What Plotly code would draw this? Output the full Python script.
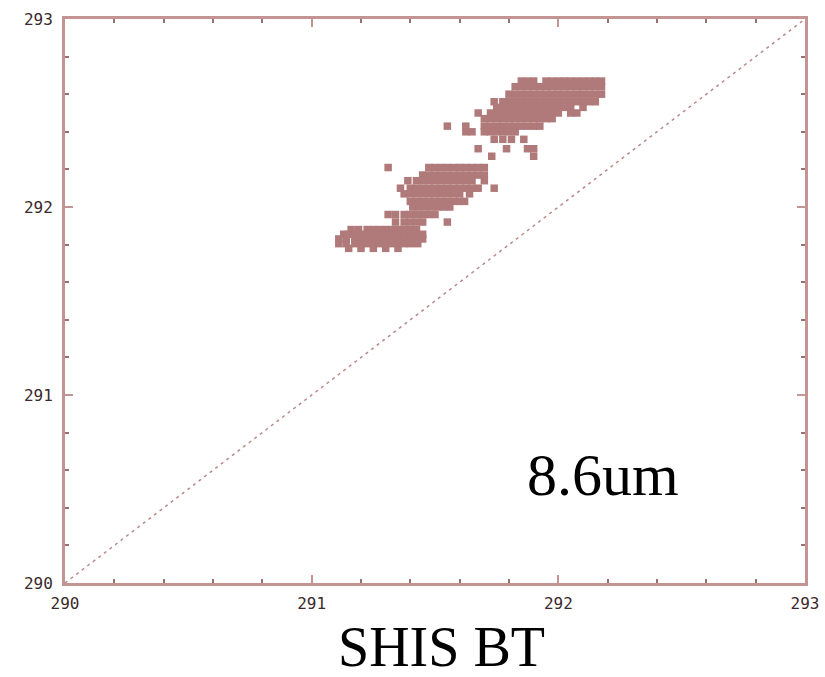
import plotly.graph_objects as go

# ---- data (brightness temperatures, K) ----
# cluster points given as rows: (y value, list of x values)
top_rows = [
    (292.67, [291.85, 291.875, 291.90, 291.95, 291.975, 292.00, 292.025, 292.05, 292.075, 292.10, 292.125, 292.15, 292.175]),
    (292.64, [291.825, 291.85, 291.875, 291.90, 291.925, 291.95, 291.975, 292.00, 292.025, 292.05, 292.075, 292.10, 292.125, 292.15, 292.175]),
    (292.60, [291.80, 291.825, 291.85, 291.875, 291.90, 291.925, 291.95, 291.975, 292.00, 292.025, 292.05, 292.075, 292.10, 292.125, 292.15, 292.175]),
    (292.56, [291.74, 291.775, 291.80, 291.825, 291.85, 291.875, 291.90, 291.925, 291.95, 291.975, 292.00, 292.025, 292.05, 292.075, 292.10, 292.125, 292.15]),
    (292.53, [291.75, 291.775, 291.80, 291.825, 291.85, 291.875, 291.90, 291.925, 291.95, 291.975, 292.00, 292.025, 292.05, 292.10]),
    (292.50, [291.675, 291.725, 291.75, 291.775, 291.80, 291.825, 291.85, 291.875, 291.90, 291.925, 291.95, 291.975, 292.00, 292.05, 292.075]),
    (292.47, [291.70, 291.725, 291.75, 291.775, 291.80, 291.825, 291.85, 291.875, 291.90, 291.925, 291.95, 291.975]),
    (292.43, [291.55, 291.625, 291.70, 291.725, 291.75, 291.775, 291.80, 291.825, 291.85, 291.875, 291.90, 291.925]),
    (292.40, [291.625, 291.65, 291.70, 291.725, 291.75, 291.775, 291.80, 291.825]),
    (292.36, [291.74, 291.775, 291.81, 291.86]),
    (292.31, [291.675, 291.79, 291.875, 291.90]),
    (292.27, [291.73, 291.90]),
]
mid_rows = [
    (292.21, [291.31, 291.475, 291.50, 291.525, 291.55, 291.575, 291.60, 291.625, 291.65, 291.675, 291.70]),
    (292.17, [291.45, 291.475, 291.50, 291.525, 291.55, 291.575, 291.60, 291.625, 291.65, 291.675, 291.70]),
    (292.14, [291.39, 291.425, 291.45, 291.475, 291.50, 291.525, 291.55, 291.575, 291.60, 291.625, 291.65, 291.70]),
    (292.10, [291.36, 291.40, 291.425, 291.45, 291.475, 291.50, 291.525, 291.55, 291.575, 291.60, 291.625, 291.65, 291.675, 291.74]),
    (292.07, [291.375, 291.40, 291.425, 291.45, 291.475, 291.50, 291.525, 291.55, 291.575, 291.60, 291.64]),
    (292.03, [291.40, 291.425, 291.45, 291.475, 291.50, 291.525, 291.55, 291.575, 291.60, 291.62]),
    (292.00, [291.41, 291.435, 291.46, 291.485, 291.51, 291.535, 291.56]),
    (291.96, [291.31, 291.34, 291.375, 291.40, 291.425, 291.45, 291.475, 291.50]),
    (291.92, [291.34, 291.375, 291.40, 291.425, 291.45, 291.55]),
]
low_rows = [
    (291.88, [291.16, 291.19, 291.225, 291.25, 291.275, 291.30, 291.325, 291.35, 291.375, 291.40, 291.425]),
    (291.855, [291.13, 291.15, 291.175, 291.20, 291.225, 291.25, 291.275, 291.30, 291.325, 291.35, 291.375, 291.40, 291.425, 291.45]),
    (291.83, [291.11, 291.14, 291.175, 291.20, 291.225, 291.25, 291.275, 291.30, 291.325, 291.35, 291.375, 291.40, 291.425, 291.45]),
    (291.805, [291.11, 291.14, 291.175, 291.20, 291.225, 291.25, 291.275, 291.30, 291.325, 291.35, 291.375, 291.40, 291.43]),
    (291.78, [291.15, 291.20, 291.25, 291.30, 291.35]),
]
diag_x = [290, 293]
diag_y = [290, 293]
tick_vals = [290, 291, 292, 293]
tick_text = ["290", "291", "292", "293"]

pts_x, pts_y = [], []
for rows in (top_rows, mid_rows, low_rows):
    for yv, xs in rows:
        for xv in xs:
            pts_x.append(xv)
            pts_y.append(yv)

PT = "#b07a7a"
AX = "#c29494"

fig = go.Figure()
fig.add_trace(go.Scatter(
    x=diag_x, y=diag_y, mode="lines",
    line=dict(color="#b98a8a", width=1.5, dash="3px,4px"),
    hoverinfo="skip", showlegend=False))
fig.add_trace(go.Scatter(
    x=pts_x, y=pts_y, mode="markers",
    marker=dict(symbol="square", size=7.5, color=PT, line=dict(width=0)),
    showlegend=False))

axis_common = dict(
    range=[290, 293], tickvals=tick_vals, ticktext=tick_text,
    showgrid=False, zeroline=False, showline=True, mirror="ticks",
    linecolor=AX, linewidth=3, ticks="inside", ticklen=8, tickwidth=2,
    tickcolor=AX, automargin=False,
    tickfont=dict(family="DejaVu Sans Mono", size=16, color="#3a2a2a"),
    minor=dict(dtick=0.2, tick0=290, ticks="inside", ticklen=4, tickwidth=2, tickcolor="#9a7070"),
)
fig.update_xaxes(**axis_common, ticklabelstandoff=4)
fig.update_yaxes(**axis_common, ticklabelstandoff=6)

fig.add_annotation(text="8.6um", xref="paper", yref="paper", x=0.727, y=0.191,
                   showarrow=False, xanchor="center", yanchor="middle",
                   font=dict(family="Liberation Serif", size=60, color="black"))
fig.add_annotation(text="SHIS BT", xref="paper", yref="paper", x=0.509, y=-0.113,
                   showarrow=False, xanchor="center", yanchor="middle",
                   font=dict(family="Liberation Serif", size=56, color="black"))

fig.update_layout(
    width=825, height=677,
    margin=dict(l=65, r=20, t=19, b=94, autoexpand=False),
    plot_bgcolor="white", paper_bgcolor="white",
)
fig.write_html("out.html", config={"displayModeBar": False},
               post_script="document.body.style.margin='0';document.body.style.overflow='hidden';")
